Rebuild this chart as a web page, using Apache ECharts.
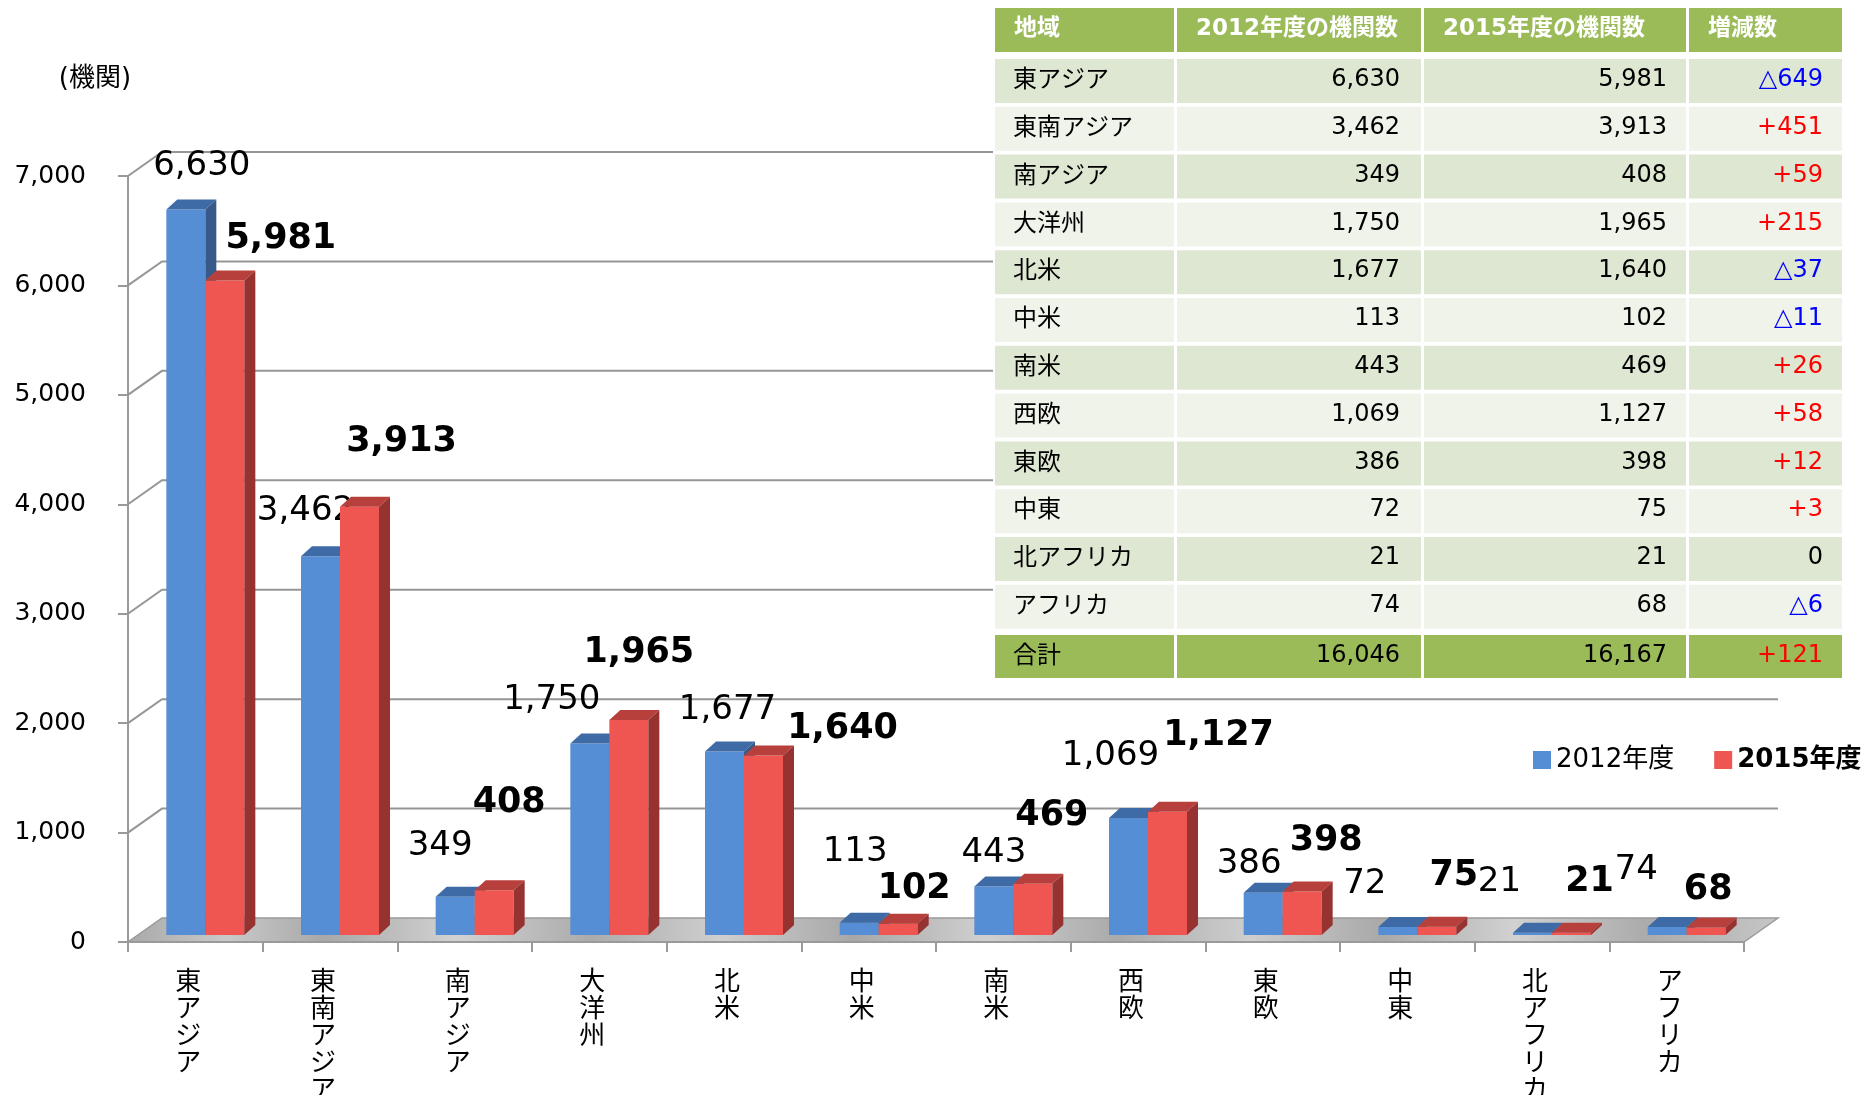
<!DOCTYPE html>
<html>
<head>
<meta charset="utf-8">
<script src="https://cdn.jsdelivr.net/npm/echarts@6/dist/echarts.min.js"></script>
<style>
  html, body { margin: 0; padding: 0; background: #fff; }
  #chart { width: 1873px; height: 1095px; }
</style>
</head>
<body>
<div id="chart"></div>
<script>
// ---- data ----
const regions = ['東アジア', '東南アジア', '南アジア', '大洋州', '北米', '中米', '南米', '西欧', '東欧', '中東', '北アフリカ', 'アフリカ'];
const count2012 = [6630, 3462, 349, 1750, 1677, 113, 443, 1069, 386, 72, 21, 74];
const count2015 = [5981, 3913, 408, 1965, 1640, 102, 469, 1127, 398, 75, 21, 68];
const yTicks = [0, 1000, 2000, 3000, 4000, 5000, 6000, 7000];
const seriesNames = ['2012年度', '2015年度'];
const tableHeader = ['地域', '2012年度の機関数', '2015年度の機関数', '増減数'];
const totalLabel = '合計';

// hand-placed data labels in the original: [dx from bar face centre, height above bar top]
const nudge2012 = [[16, 43], [-15, 45], [-15, 51], [-38, 43], [3, 41], [-4, 70], [0, 33], [-18, 62], [-14, 29], [-33, 43], [-33, 51], [-31, 57]];
const nudge2015 = [[56, 42], [42, 65], [15, 87], [10, 67], [79, 27], [16, 35], [19, 68], [51, 76], [24, 51], [17, 51], [18, 51], [2, 38]];

const NUM_FONT = '"DejaVu Sans", "Noto Sans CJK JP", sans-serif';
const JP_FONT = '"Noto Sans CJK JP", sans-serif';
const fmt = n => n.toLocaleString('en-US');

// fake 3d settings
const BAR_W = 39, DX = 11, DY = 10, LIFT = 7;   // bars
const WX = 34, WY = 24;                         // walls / floor depth

const barStyle = [
  { front: '#568ED6', top: '#3E6AA5', side: '#375A8B', offset: -29, nudge: nudge2012, weight: 'normal', size: 34 },
  { front: '#EF5651', top: '#B8403C', side: '#963230', offset: 10, nudge: nudge2015, weight: 'bold', size: 35 }
];

function txt(x, y, text, font, fill, align, valign, z) {
  return {
    type: 'text', x: x, y: y, z: z || 0,
    style: {
      text: text, font: font, fill: fill,
      textAlign: align, align: align,
      textVerticalAlign: valign, verticalAlign: valign
    }
  };
}

function barRenderer(k) {
  const st = barStyle[k];
  return function (params, api) {
    const i = api.value(0), v = api.value(1);
    const base = api.coord([i, 0]);
    const topP = api.coord([i, v]);
    const x0 = base[0] + st.offset, x1 = x0 + BAR_W;
    const yb = base[1] - LIFT, yt = topP[1] - LIFT;
    const n = st.nudge[params.dataIndex];
    return {
      type: 'group',
      children: [
        { type: 'rect', shape: { x: x0, y: yt, width: BAR_W, height: yb - yt }, style: { fill: st.front } },
        { type: 'polygon', shape: { points: [[x0, yt], [x1, yt], [x1 + DX, yt - DY], [x0 + DX, yt - DY]] }, style: { fill: st.top } },
        { type: 'polygon', shape: { points: [[x1, yt], [x1, yb], [x1 + DX, yb - DY], [x1 + DX, yt - DY]] }, style: { fill: st.side } },
        txt(x0 + BAR_W / 2 + n[0], yt - n[1], fmt(v), st.weight + ' ' + st.size + 'px ' + NUM_FONT, '#000', 'center', 'middle')
      ]
    };
  };
}

const floorFill = new echarts.graphic.LinearGradient(0, 0, 1, 0.3, [
  { offset: 0, color: '#A9A9A9' }, { offset: 0.06, color: '#C9C9C9' }, { offset: 0.12, color: '#A8A8A8' },
  { offset: 0.2, color: '#D2D2D2' }, { offset: 0.28, color: '#ABABAB' }, { offset: 0.36, color: '#CFCFCF' },
  { offset: 0.44, color: '#A7A7A7' }, { offset: 0.52, color: '#D0D0D0' }, { offset: 0.6, color: '#AAAAAA' },
  { offset: 0.68, color: '#CECECE' }, { offset: 0.76, color: '#A9A9A9' }, { offset: 0.84, color: '#D1D1D1' },
  { offset: 0.92, color: '#ABABAB' }, { offset: 1, color: '#C6C6C6' }
]);

function wallRenderer(params, api) {
  const t = api.value(1);
  const cs = params.coordSys;
  const y = api.coord([0, t])[1];
  const xl = cs.x, xr = cs.x + cs.width;
  if (t === 0) {
    return {
      type: 'polygon',
      shape: { points: [[xl, y], [xr, y], [xr + WX, y - WY], [xl + WX, y - WY]] },
      style: { fill: floorFill, stroke: '#9A9A9A', lineWidth: 1.5 }
    };
  }
  return {
    type: 'polyline',
    shape: { points: [[xl, y], [xl + WX, y - WY], [xr + WX, y - WY]] },
    style: { stroke: '#969696', lineWidth: 2, fill: null }
  };
}

// ---- table (drawn on top of the chart) ----
function buildTable() {
  const cols = [[995, 1174], [1177, 1421], [1424, 1686], [1689, 1842]];
  const rowTop = i => 59 + 47.8 * i;
  const Z = 100;
  const els = [];
  const cell = (c, y, h, fill) => els.push({
    type: 'rect', z: Z,
    shape: { x: cols[c][0], y: y, width: cols[c][1] - cols[c][0], height: h }, style: { fill: fill }
  });
  const bodyFont = '24px ' + NUM_FONT;

  // white backing so the chart's back wall lines stay hidden
  els.push({ type: 'rect', z: Z - 1, shape: { x: 993, y: 6, width: 851, height: 673 }, style: { fill: '#fff' } });

  // header
  tableHeader.forEach((h, c) => {
    cell(c, 8, 44, '#9BBB59');
    els.push(txt(cols[c][0] + 19, 29, h, 'bold 23px ' + NUM_FONT, '#fff', 'left', 'middle', Z + 1));
  });

  const rowOut = (y, h, fill, label, a, b) => {
    const d = b - a;
    const dText = d < 0 ? '△' + fmt(-d) : (d > 0 ? '+' + fmt(d) : '0');
    const dColor = d < 0 ? '#0000FF' : (d > 0 ? '#FF0000' : '#000');
    for (let c = 0; c < 4; c++) cell(c, y, h, fill);
    const cy = y + h / 2;
    els.push(txt(cols[0][0] + 18, cy - 3, label, '24px ' + JP_FONT, '#000', 'left', 'middle', Z + 1));
    els.push(txt(cols[1][1] - 21, cy - 1, fmt(a), bodyFont, '#000', 'right', 'middle', Z + 1));
    els.push(txt(cols[2][1] - 19, cy - 1, fmt(b), bodyFont, '#000', 'right', 'middle', Z + 1));
    els.push(txt(cols[3][1] - 19, cy - 1, dText, bodyFont, dColor, 'right', 'middle', Z + 1));
  };

  regions.forEach((r, i) => {
    rowOut(rowTop(i), 44, i % 2 === 0 ? '#DEE7D1' : '#EFF3EA', r, count2012[i], count2015[i]);
  });
  const sum = arr => arr.reduce((s, v) => s + v, 0);
  rowOut(635, 43, '#9BBB59', totalLabel, sum(count2012), sum(count2015));

  return els;
}

const chart = echarts.init(document.getElementById('chart'));
chart.setOption({
  animation: false,
  backgroundColor: '#fff',
  grid: { left: 128, right: 129, top: 176, bottom: 153, containLabel: false, outerBoundsMode: 'none' },
  legend: {
    orient: 'horizontal',
    left: 1533, top: 747, width: 340, padding: 0,
    icon: 'rect', itemWidth: 18, itemHeight: 18, itemGap: 40,
    data: [
      { name: seriesNames[0] },
      { name: seriesNames[1], textStyle: { fontWeight: 'bold' } }
    ],
    textStyle: { fontSize: 26, fontFamily: NUM_FONT, color: '#000' }
  },
  xAxis: {
    type: 'category',
    data: regions,
    axisLine: { lineStyle: { color: '#9A9A9A', width: 2 } },
    axisTick: { show: true, length: 10, lineStyle: { color: '#9A9A9A', width: 2 } },
    axisLabel: {
      interval: 0,
      formatter: s => s.split('').join('\n'),
      fontSize: 26, lineHeight: 27, fontFamily: JP_FONT, color: '#000',
      margin: 25, padding: [0, 14, 0, 0]
    },
    z: 5
  },
  yAxis: {
    type: 'value', min: 0, max: 7000, interval: 1000,
    name: '(機関)', nameLocation: 'end', nameGap: 84,
    nameTextStyle: { fontSize: 26, fontFamily: NUM_FONT, color: '#000', padding: [0, 66, 0, 0] },
    axisLine: { show: true, lineStyle: { color: '#9A9A9A', width: 2 } },
    axisTick: { show: true, length: 10, lineStyle: { color: '#9A9A9A', width: 2 } },
    splitLine: { show: false },
    axisLabel: { formatter: v => fmt(v), fontSize: 25, fontFamily: NUM_FONT, color: '#000', margin: 42 }
  },
  graphic: buildTable(),
  series: [
    {
      type: 'custom', name: 'walls', silent: true,
      renderItem: wallRenderer,
      encode: { x: 0, y: 1 },
      data: yTicks.map(t => [0, t]),
      z: 1
    },
    {
      type: 'custom', name: seriesNames[0],
      itemStyle: { color: barStyle[0].front },
      renderItem: barRenderer(0),
      encode: { x: 0, y: 1 },
      data: count2012.map((v, i) => [i, v]),
      z: 3
    },
    {
      type: 'custom', name: seriesNames[1],
      itemStyle: { color: barStyle[1].front },
      renderItem: barRenderer(1),
      encode: { x: 0, y: 1 },
      data: count2015.map((v, i) => [i, v]),
      z: 4
    }
  ]
});
</script>
</body>
</html>
